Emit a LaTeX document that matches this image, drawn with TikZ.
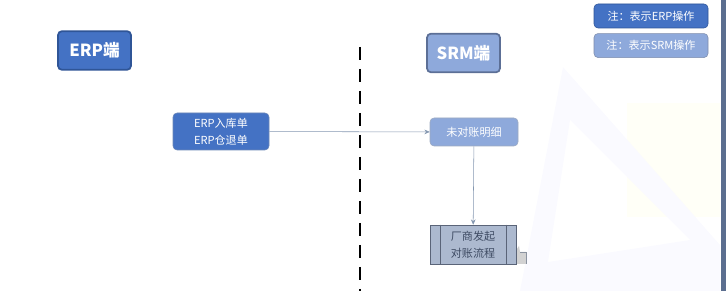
\documentclass[tikz,border=0pt]{standalone}
\usepackage{fontspec}
\setmainfont{Noto Sans CJK SC}
\usetikzlibrary{arrows.meta,positioning,calc}
\definecolor{erpblue}{HTML}{4472C4}
\definecolor{erpline}{HTML}{2F5597}
\definecolor{srmblue}{HTML}{8EA9DB}
\definecolor{srmline}{HTML}{5C6F96}
\definecolor{procfill}{HTML}{ACB9CF}
\definecolor{procline}{HTML}{5A6478}
\definecolor{proctext}{HTML}{3E4B63}
\definecolor{edgebar}{HTML}{5B6E8F}
\definecolor{arrowc}{HTML}{8497B0}
\begin{document}
\begin{tikzpicture}[x=0.75pt,y=-0.75pt,every node/.style={font=\fontsize{8.3}{12.5}\selectfont},
 hd/.style={draw,line width=1.3pt,rounded corners=3pt,minimum width=54.75pt,minimum height=29pt,text=white,font=\fontsize{12.5}{14}\selectfont\bfseries},
 n/.style={draw,rounded corners=3pt,align=center,text=white,inner sep=2pt},
 key/.style={n,minimum width=85.5pt,minimum height=18pt}]
\useasboundingbox (0,0) rectangle (726,291);
% faint background
\fill[yellow!3] (627,103) rectangle (720,217);
\fill[blue!2,even odd rule] (563,67) -- (520,291) -- (720,291) -- (720,245) -- cycle (570,120) -- (548,262) -- (690,240) -- cycle;
\fill[edgebar] (721,0) rectangle (726,291);
% headers
\node[hd,fill=erpblue,draw=erpline] (erp) at (94.5,50.5) {ERP端};
\node[hd,fill=srmblue,draw=srmline] (srm) at (463.5,53) {SRM端};
% legend
\node[key,fill=erpblue,draw=erpline] (k1) at (651,16) {注：表示ERP操作};
\node[key,fill=srmblue,draw=srmline!80,below=3.75pt of k1] (k2) {注：表示SRM操作};
% divider
\coordinate (dtop) at (360,47);
\coordinate (dbot) at (360,291);
\draw[line width=1.6pt,dash pattern=on 9.5pt off 7pt] (dtop) -- (dbot);
% flow
\node[n,fill=erpblue,draw=erpline!70,minimum width=72pt,minimum height=27.75pt] (bill) at (221,131.5) {ERP入库单\\ERP仓退单};
\node[n,fill=srmblue,draw=srmline!60,minimum width=66pt,minimum height=21pt] (open) at (474,132) {未对账明细};
\node[draw=procline,fill=procfill,text=proctext,align=center,minimum width=64.5pt,minimum height=29.25pt,inner sep=1pt] (proc) at (473,244.5) {厂商发起\\对账流程};
\draw[procline] ($(proc.north west)+(11,0)$) -- ($(proc.south west)+(11,0)$);
\draw[procline] ($(proc.north east)+(-10,0)$) -- ($(proc.south east)+(-10,0)$);
\fill[gray!35] (517,249) -- (519,246) -- (520,252) -- (526,252) -- (526,264) -- (517,264) -- cycle;
\draw[procline!70] (520,252) -- (526,252) -- (526,264);
\draw[-{Stealth[length=4pt,width=3.5pt]},color=arrowc] (bill) -- (open);
\draw[-{Stealth[length=4pt,width=3.5pt]},color=arrowc] (open) -- (proc);
\end{tikzpicture}
\end{document}
